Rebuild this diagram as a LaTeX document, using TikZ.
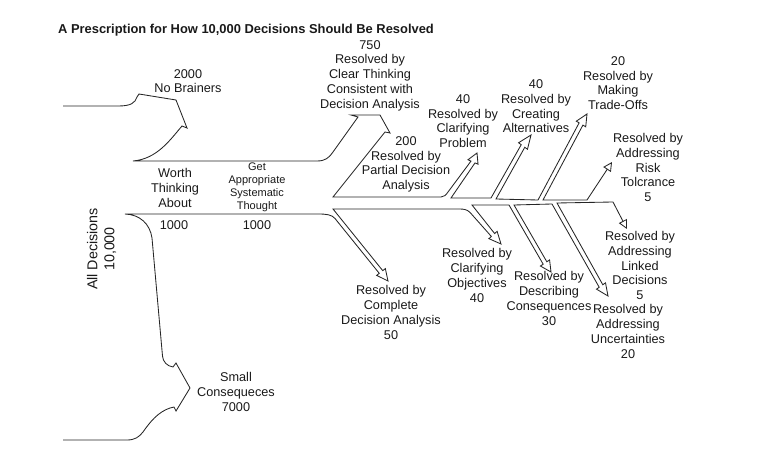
\documentclass[tikz,border=0pt]{standalone}
\usepackage{fontspec}
\setmainfont{Liberation Sans}
\usetikzlibrary{calc,arrows.meta}
\newcommand\sw{2.2pt}
\newcommand\hw{5.5pt}
% head of a thin hollow arrow pointing upward (path fragment): base centre, tip
\newcommand\headU[2]{-- ($(#1)!\sw!90:(#2)$) -- ($(#1)!\hw!90:(#2)$) -- (#2) -- ($(#1)!\hw!-90:(#2)$) -- ($(#1)!\sw!-90:(#2)$)}
% head of a thin hollow arrow pointing downward
\newcommand\headD[2]{-- ($(#1)!\sw!-90:(#2)$) -- ($(#1)!\hw!-90:(#2)$) -- (#2) -- ($(#1)!\hw!90:(#2)$) -- ($(#1)!\sw!90:(#2)$)}
\begin{document}
\begin{tikzpicture}[x=1pt,y=-1pt,
  band/.style={line width=0.85pt, draw=black!85, line join=miter,
     -{Triangle[open,length=9pt,width=9pt]}},
  lbl/.style={align=center, inner sep=0pt, text=black!90,
     font=\fontsize{12.7}{14.7}\selectfont},
  sml/.style={align=center, inner sep=0pt, text=black!90,
     font=\fontsize{11}{13}\selectfont},
  big/.style={align=center, inner sep=0pt, text=black!90,
     font=\fontsize{14.3}{17}\selectfont}]
\useasboundingbox (0,0) rectangle (760,454);

% title
\node[anchor=base west, inner sep=0pt, font=\fontsize{12.9}{15}\selectfont\bfseries, text=black!90]
  (title) at (58,34) {A Prescription for How 10,000 Decisions Should Be Resolved};

% upper outline: No Brainers, Worth top, 750, band top with upward arrows, Risk
\draw[band] (63,106) -- (118,106) .. controls (131,106) and (135,103) .. (137,97)
  -- (139,94) -- (176,100) -- (187,128) -- (182,126)
  .. controls (170,140) and (157,159) .. (133,161)
  -- (317,161) .. controls (325,161) and (329,158) .. (333,152)
  -- (358,117) -- (351,115) -- (380,115) -- (390,133) -- (385,132)
  -- (333,197) -- (441,197) .. controls (444,197) and (446,195) .. (448,192)
  \headU{473,162}{477,153}
  -- (451,198) -- (491,198) \headU{523,146}{531,135}
  -- (496,199) -- (538,200) \headU{581,124}{587,114}
  -- (543,200) -- (587,200) -- (612,162);

% lower outline: Small Consequences, Worth bottom, 50, band bottom with downward arrows, Linked
\draw[band] (63,440) -- (127,440) .. controls (135,440) and (139,437) .. (143,432)
  .. controls (150,422) and (158,412) .. (170,408) -- (174,407) -- (176,411)
  -- (190,388) -- (176,363) -- (173,367)
  .. controls (167,366) and (163,362) .. (162.5,356) -- (152,238)
  .. controls (150,224) and (140,214.5) .. (125,214)
  -- (318,214) .. controls (326,214) and (331.9,214.6) .. (335,218.5)
  \headD{381,272}{388,281}
  -- (333,209) -- (459,209) .. controls (464,209) and (467,209.5) .. (470,212.4)
  \headD{493,235}{501,244}
  -- (472,205) -- (509,205) \headD{545,263}{551,272}
  -- (514,205) -- (552,204) \headD{601,286}{608,296}
  -- (557,203) -- (613,202) -- (627,229);

% labels
\node[lbl] (nobrain) at (188,81) {2000\\No Brainers};
\node[lbl] (clear) at (370,75.5) {750\\Resolved by\\Clear Thinking\\Consistent with\\Decision Analysis};
\node[lbl] (clarprob) at (463,121) {40\\Resolved by\\Clarifying\\Problem};
\node[lbl] (altern) at (536,106.5) {40\\Resolved by\\Creating\\Alternatives};
\node[lbl] (trade) at (618,83) {20\\Resolved by\\Making\\Trade-Offs};
\node[lbl] (risk) at (648,167.5) {Resolved by\\Addressing\\Risk\\Tolcrance\\5};
\node[lbl] (partial) at (406,164.5) {200\\Resolved by\\Partial Decision\\Analysis};
\node[lbl] (worth) at (175,188) {Worth\\Thinking\\About};
\node[sml] (getapp) at (257,187.5) {Get\\Appropriate\\Systematic\\Thought};
\node[lbl] (n1000a) at (174,225) {1000};
\node[lbl] (n1000b) at (257,225) {1000};
\node[big, rotate=90] (all) at (101.5,249) {All Decisions\\10,000};
\node[lbl] (small) at (236,392) {Small\\Consequeces\\7000};
\node[lbl] (complete) at (391,312.5) {Resolved by\\Complete\\Decision Analysis\\50};
\node[lbl] (objectives) at (477,275.5) {Resolved by\\Clarifying\\Objectives\\40};
\node[lbl] (describe) at (549,298.5) {Resolved by\\Describing\\Consequences\\30};
\node[lbl] (linked) at (640,265.5) {Resolved by\\Addressing\\Linked\\Decisions\\5};
\node[lbl] (uncert) at (628,331.5) {Resolved by\\Addressing\\Uncertainties\\20};
\end{tikzpicture}
\end{document}
